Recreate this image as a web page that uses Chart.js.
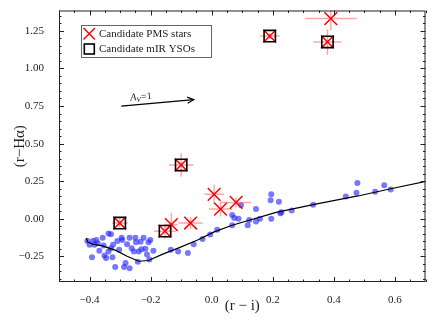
<!DOCTYPE html>
<html>
<head>
<meta charset="utf-8">
<script src="https://cdn.jsdelivr.net/npm/chart.js@4.4.0/dist/chart.umd.min.js"></script>
<style>body{margin:0;background:#fff}</style>
</head>
<body>
<canvas id="myChart" width="436" height="320"></canvas>
<script>
var xTicks = [-0.4, -0.2, 0, 0.2, 0.4, 0.6];
var yTicks = [-0.25, 0, 0.25, 0.5, 0.75, 1, 1.25];

// field stars (blue dots)
var fieldX = [-0.407,-0.400,-0.389,-0.384,-0.378,-0.373,-0.392,-0.368,-0.357,-0.354,
  -0.351,-0.346,-0.338,-0.330,-0.338,-0.330,-0.325,-0.323,-0.316,-0.309,
  -0.303,-0.295,-0.293,-0.287,-0.282,-0.277,-0.269,-0.269,-0.262,-0.255,
  -0.250,-0.248,-0.242,-0.239,-0.233,-0.230,-0.223,-0.217,-0.212,-0.207,
  -0.201,-0.204,-0.191,-0.134,-0.110,-0.078,-0.059,-0.030,-0.005,0.018,
  0.067,0.067,0.074,0.088,0.096,0.118,0.123,0.145,0.145,0.158,
  0.193,0.195,0.195,0.220,0.225,0.228,0.262,0.332,0.439,0.474,
  0.477,0.535,0.565,0.586];
var fieldY = [-0.147,-0.173,-0.147,-0.173,-0.141,-0.163,-0.256,-0.212,-0.126,-0.178,
  -0.243,-0.260,-0.098,-0.102,-0.217,-0.195,-0.256,-0.173,-0.321,-0.147,
  -0.206,-0.126,-0.141,-0.321,-0.293,-0.169,-0.329,-0.126,-0.195,-0.217,
  -0.126,-0.156,-0.286,-0.217,-0.152,-0.202,-0.126,-0.199,-0.238,-0.156,
  -0.141,-0.271,-0.212,-0.206,-0.217,-0.228,-0.169,-0.134,-0.104,-0.072,
  -0.043,0.026,0.005,0.000,0.091,-0.043,-0.007,-0.017,0.065,0.000,
  0.124,0.163,0.000,0.113,0.037,0.044,0.055,0.094,0.148,0.174,
  0.239,0.180,0.224,0.195];

// main sequence locus
var locusX = [-0.410,-0.407,-0.389,-0.357,-0.314,-0.277,-0.239,-0.207,-0.164,-0.110,-0.046,0.008,0.067,0.211,0.340,0.479,0.586,0.703];
var locusY = [-0.126,-0.152,-0.169,-0.180,-0.210,-0.249,-0.282,-0.277,-0.238,-0.195,-0.141,-0.087,-0.043,0.043,0.098,0.152,0.200,0.250];

// candidate PMS stars with errors
var pmsX    = [-0.301,-0.153,-0.132,-0.069,-0.100,0.008,0.029,0.080,0.190,0.390,0.379];
var pmsY    = [-0.028,-0.082,-0.039,-0.028,0.358,0.163,0.065,0.109,1.215,1.331,1.176];
var pmsXerr = [0.026,0.036,0.020,0.040,0.040,0.032,0.038,0.050,0.032,0.085,0.046];
var pmsYerr = [0.030,0.050,0.080,0.040,0.078,0.063,0.050,0.033,0.020,0.078,0.085];

// candidate mIR YSOs
var ysoX = [-0.301,-0.153,-0.100,0.190,0.379];
var ysoY = [-0.028,-0.082,0.358,1.215,1.176];

// reddening vector A_V = 1
var arrowX = [-0.296, -0.059];
var arrowY = [0.749, 0.792];

function pts(xs, ys) {
  return xs.map(function (v, i) { return {x: v, y: ys[i]}; });
}

var errSegs = [];
for (var i = 0; i < pmsX.length; i++) {
  errSegs.push({x: pmsX[i] - pmsXerr[i], y: pmsY[i]}, {x: pmsX[i] + pmsXerr[i], y: pmsY[i]}, {x: pmsX[i], y: null});
  errSegs.push({x: pmsX[i], y: pmsY[i] - pmsYerr[i]}, {x: pmsX[i], y: pmsY[i] + pmsYerr[i]}, {x: pmsX[i], y: null});
}

var serif = "'Liberation Serif', 'DejaVu Serif', serif";

function minus(s) { return s.replace('-', '\u2212'); }

var decor = {
  id: 'decor',
  afterDatasetsDraw: function (chart) {
    var c = chart.ctx, a = chart.chartArea;
    var xs = chart.scales.x, ys = chart.scales.y;
    c.save();
    // frame + inward ticks
    c.strokeStyle = '#222';
    c.lineWidth = 1;
    c.strokeRect(a.left + 0.5, a.top + 0.5, a.right - a.left - 1, a.bottom - a.top - 1);
    c.beginPath();
    for (var i = -10; i <= 14; i++) {
      var px = Math.round(xs.getPixelForValue(i * 0.05)) + 0.5;
      var len = (i % 4 === 0) ? 5 : 2.5;
      c.moveTo(px, a.bottom); c.lineTo(px, a.bottom - len);
      c.moveTo(px, a.top); c.lineTo(px, a.top + len);
    }
    for (var j = -8; j <= 27; j++) {
      var py = Math.round(ys.getPixelForValue(j * 0.05)) + 0.5;
      var l2 = (j % 5 === 0) ? 5 : 2.5;
      c.moveTo(a.left, py); c.lineTo(a.left + l2, py);
      c.moveTo(a.right, py); c.lineTo(a.right - l2, py);
    }
    c.stroke();

    // arrow head
    var x0 = xs.getPixelForValue(arrowX[0]), y0 = ys.getPixelForValue(arrowY[0]);
    var x1 = xs.getPixelForValue(arrowX[1]), y1 = ys.getPixelForValue(arrowY[1]);
    var ang = Math.atan2(y1 - y0, x1 - x0);
    c.strokeStyle = '#000';
    c.lineWidth = 1.3;
    c.beginPath();
    c.moveTo(x1 - 7 * Math.cos(ang - 0.45), y1 - 7 * Math.sin(ang - 0.45));
    c.lineTo(x1, y1);
    c.lineTo(x1 - 7 * Math.cos(ang + 0.45), y1 - 7 * Math.sin(ang + 0.45));
    c.stroke();

    // arrow label
    c.save();
    c.translate(xs.getPixelForValue(-0.266), ys.getPixelForValue(0.786));
    c.rotate(ang);
    c.fillStyle = '#222';
    c.textBaseline = 'alphabetic';
    c.font = 'italic 10px ' + serif;
    c.fillText('A', 0, 0);
    var w = c.measureText('A').width;
    c.font = 'italic 7px ' + serif;
    c.fillText('V', w, 2);
    w += c.measureText('V').width + 0.5;
    c.font = '10px ' + serif;
    c.fillText('=1', w, 0);
    c.restore();

    // legend
    c.fillStyle = '#fff';
    c.fillRect(81, 25, 131, 33);
    c.strokeStyle = '#666';
    c.lineWidth = 1;
    c.strokeRect(81.5, 25.5, 130, 32);
    c.strokeStyle = '#ff0000';
    c.lineWidth = 1.5;
    c.beginPath();
    c.moveTo(83.5, 28); c.lineTo(95, 39.5);
    c.moveTo(95, 28); c.lineTo(83.5, 39.5);
    c.stroke();
    c.strokeStyle = '#000';
    c.lineWidth = 1.6;
    c.strokeRect(84.3, 44, 10, 10);
    c.fillStyle = '#222';
    c.font = '11px ' + serif;
    c.textBaseline = 'middle';
    c.fillText(chart.data.datasets[4].label, 99, 34);
    c.fillText(chart.data.datasets[5].label, 99, 49.5);
    c.restore();
  }
};

var ctx = document.getElementById('myChart').getContext('2d');
var myChart = new Chart(ctx, {
  type: 'scatter',
  data: {
    datasets: [
      {label: 'field', data: pts(fieldX, fieldY), pointRadius: 3, pointBackgroundColor: 'rgba(30,30,255,0.6)', pointBorderWidth: 0, order: 6},
      {label: 'locus', data: pts(locusX, locusY), showLine: true, borderColor: '#000', borderWidth: 1.2, pointRadius: 0, order: 5},
      {label: 'arrow', data: pts(arrowX, arrowY), showLine: true, borderColor: '#000', borderWidth: 1.3, pointRadius: 0, order: 4},
      {label: 'errors', data: errSegs, showLine: true, spanGaps: false, borderColor: 'rgba(255,0,0,0.35)', borderWidth: 1.5, pointRadius: 0, order: 3},
      {label: 'Candidate PMS stars', data: pts(pmsX, pmsY), pointStyle: 'crossRot', pointRadius: 9, pointBorderColor: '#ff0000', pointBorderWidth: 1.5, order: 2},
      {label: 'Candidate mIR YSOs', data: pts(ysoX, ysoY), pointStyle: 'rect', pointRadius: 8, pointBorderColor: '#000', pointBackgroundColor: 'rgba(0,0,0,0)', pointBorderWidth: 1.6, order: 1}
    ]
  },
  options: {
    responsive: false,
    animation: false,
    layout: {padding: {top: 3, right: 4, left: 0, bottom: 0}},
    plugins: {legend: {display: false}, tooltip: {enabled: false}},
    scales: {
      x: {
        min: -0.5, max: 0.7,
        grid: {display: false}, border: {display: false},
        afterBuildTicks: function (s) { s.ticks = xTicks.map(function (v) { return {value: v}; }); },
        afterFit: function (s) { s.height = 38; s.paddingLeft = 0; s.paddingRight = 0; },
        ticks: {padding: 4, color: '#222', font: {family: serif, size: 11},
          callback: function (v) { return minus(v.toFixed(1)); }},
        title: {display: true, text: '(r \u2212 i)', color: '#222', font: {family: serif, size: 15}, padding: {top: 0, bottom: 5}}
      },
      y: {
        min: -0.42, max: 1.385,
        grid: {display: false}, border: {display: false},
        afterBuildTicks: function (s) { s.ticks = yTicks.map(function (v) { return {value: v}; }); },
        afterFit: function (s) { s.width = 59; s.paddingTop = 0; s.paddingBottom = 0; },
        ticks: {padding: 7, color: '#222', font: {family: serif, size: 11},
          callback: function (v) { return minus(v.toFixed(2)); }},
        title: {display: true, text: '(r\u2212H\u03b1)', color: '#222', font: {family: serif, size: 15}, padding: {top: 11, bottom: 0}}
      }
    }
  },
  plugins: [decor]
});
</script>
</body>
</html>
